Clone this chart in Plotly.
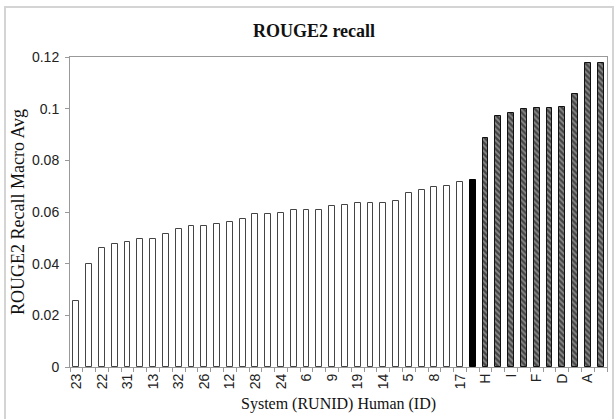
import plotly.graph_objects as go

# ---- data ----
system_labels = ["23", "", "22", "", "31", "", "13", "", "32", "", "26", "", "12", "", "28", "",
                 "24", "", "6", "", "9", "", "19", "", "14", "", "5", "", "8", "", "17"]
system_values = [0.0254, 0.0400, 0.0461, 0.0476, 0.0485, 0.0494, 0.0495, 0.0515, 0.0533, 0.0545,
                 0.0545, 0.0554, 0.0561, 0.0572, 0.0594, 0.0594, 0.0596, 0.0608, 0.0609, 0.0609,
                 0.0625, 0.0629, 0.0633, 0.0633, 0.0636, 0.0642, 0.0674, 0.0685, 0.0698, 0.0700,
                 0.0717]
baseline_labels = [""]
baseline_values = [0.0725]
human_labels = ["H", "", "I", "", "F", "", "D", "", "A", ""]
human_values = [0.0887, 0.0972, 0.0983, 0.0998, 0.1002, 0.1003, 0.1007, 0.1056, 0.1178, 0.1178]
y_ticks = [0, 0.02, 0.04, 0.06, 0.08, 0.1, 0.12]
y_ticktext = ["0", "0.02", "0.04", "0.06", "0.08", "0.1", "0.12"]

all_labels = system_labels + baseline_labels + human_labels
n_sys = len(system_values)
n_base = len(baseline_values)
x_sys = list(range(n_sys))
x_base = list(range(n_sys, n_sys + n_base))
x_hum = list(range(n_sys + n_base, n_sys + n_base + len(human_values)))
positions = list(range(len(all_labels)))

BW = 0.46
serif = "Liberation Serif, Times New Roman, serif"
sans = "Liberation Sans, Arial, sans-serif"

fig = go.Figure()
fig.add_trace(go.Bar(x=x_sys, y=system_values, width=BW,
                     marker=dict(color="white", line=dict(color="#444", width=1))))
fig.add_trace(go.Bar(x=x_base, y=baseline_values, width=BW,
                     marker=dict(color="black", line=dict(color="black", width=1))))
fig.add_trace(go.Bar(x=x_hum, y=human_values, width=BW,
                     marker=dict(color="#777", line=dict(color="#111", width=1),
                                 pattern=dict(shape="\\", fgcolor="#000", bgcolor="#8a8a8a",
                                              size=4, solidity=0.55))))

W, H = 616, 419
L, R, T, B = 70, 9, 57, 52
pw, ph = W - L - R, H - T - B

fig.update_layout(
    width=W, height=H,
    margin=dict(l=L, r=R, t=T, b=B),
    paper_bgcolor="white", plot_bgcolor="white",
    showlegend=False, bargap=0,
    title=dict(text="<b>ROUGE2 recall</b>", x=314 / W, xref="container", xanchor="center",
               y=1 - 31 / H, yref="container", yanchor="middle",
               font=dict(family=serif, size=18, color="#111")),
)
fig.update_xaxes(
    range=[-0.5, len(all_labels) - 0.5],
    tickmode="array", tickvals=positions, ticktext=all_labels,
    tickangle=-90, ticks="", showgrid=False, zeroline=False,
    tickfont=dict(family=sans, size=14, color="#222"),
    showline=True, linecolor="#999", linewidth=1, mirror=True,
    minor=dict(ticks="outside", tickmode="linear", tick0=-0.5, dtick=1,
               ticklen=4, tickcolor="#999", tickwidth=1, showgrid=False),
)
fig.update_yaxes(
    range=[0, 0.12], tickmode="array", tickvals=y_ticks, ticktext=y_ticktext,
    ticks="outside", ticklen=4, tickcolor="#999", showgrid=False, zeroline=False,
    tickfont=dict(family=sans, size=14, color="#222"),
    showline=True, linecolor="#999", linewidth=1, mirror=True,
    ticklabelstandoff=3,
)
fig.add_annotation(text="ROUGE2 Recall Macro Avg", xref="paper", yref="paper",
                   x=(18 - L) / pw, y=(H - B - 212) / ph, textangle=-90, showarrow=False,
                   xanchor="center", yanchor="middle",
                   font=dict(family=serif, size=18, color="#111"))
fig.add_annotation(text="System (RUNID) Human (ID)", xref="paper", yref="paper",
                   x=0.5, y=-(404 - (H - B)) / ph, showarrow=False,
                   xanchor="center", yanchor="middle",
                   font=dict(family=serif, size=16, color="#111"))
fig.add_shape(type="rect", xref="paper", yref="paper",
              x0=(5 - L) / pw, x1=(613 - L) / pw, y0=-(430 - (H - B)) / ph, y1=1 + (T - 7) / ph,
              line=dict(color="#d4d4d4", width=2), fillcolor="rgba(0,0,0,0)", layer="below")

fig.write_html("out.html")
